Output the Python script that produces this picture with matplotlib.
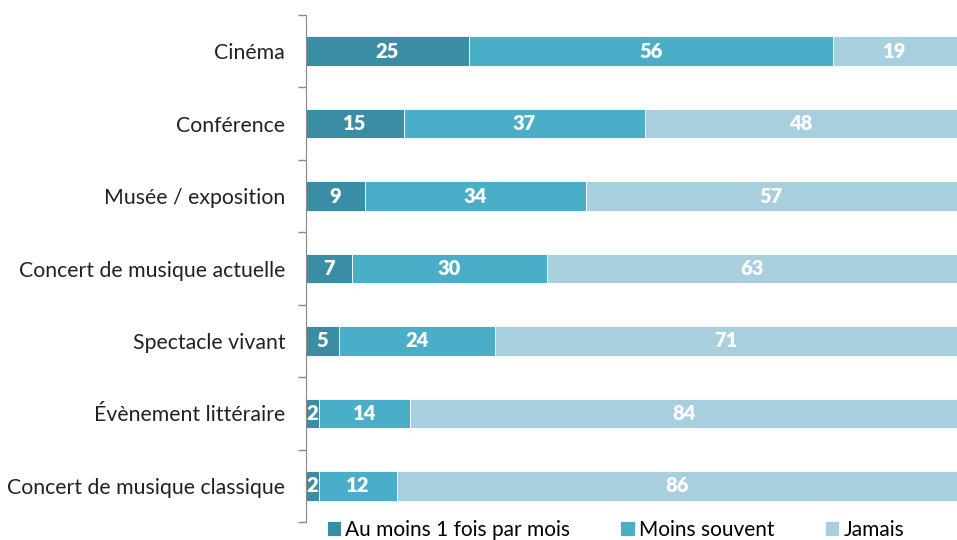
import matplotlib.pyplot as plt
import numpy as np

plt.rcParams['font.family'] = ['Lato', 'DejaVu Sans']

# Data (percentages)
categories = ['Cinéma', 'Conférence', 'Musée / exposition', 'Concert de musique actuelle',
              'Spectacle vivant', 'Évènement littéraire', 'Concert de musique classique']
monthly = [25, 15, 9, 7, 5, 2, 2]
less_often = [56, 37, 34, 30, 24, 14, 12]
never = [19, 48, 57, 63, 71, 84, 86]
series_names = ['Au moins 1 fois par mois', 'Moins souvent', 'Jamais']
colors = ['#3b8ca5', '#4baec8', '#a8cfde']

fig = plt.figure(figsize=(9.57, 5.40), dpi=100)
ax = fig.add_axes([306 / 957, 1 - 522 / 540, 1 - 306 / 957, (522 - 15) / 540])

y = np.arange(len(categories))
left = np.zeros(len(categories))
for vals, name, col in zip([monthly, less_often, never], series_names, colors):
    vals = np.array(vals)
    bars = ax.barh(y, vals, left=left, height=0.41, color=col, label=name,
                   edgecolor='white', linewidth=0.6)
    for b, v in zip(bars, vals):
        ax.text(b.get_x() + b.get_width() / 2, b.get_y() + b.get_height() / 2, str(v),
                ha='center', va='center', color='white', fontsize=14.5, fontweight='heavy')
    left += vals

ax.set_xlim(0, 100)
ax.set_ylim(len(categories) - 0.5, -0.5)
ax.set_xticks([])
ax.set_yticks(y)
ax.set_yticklabels(categories, fontsize=15.3, color='#222222')
ax.tick_params(axis='y', which='major', length=0, pad=15)
ax.set_yticks(np.arange(-0.5, len(categories)), minor=True)
ax.tick_params(axis='y', which='minor', length=6, color='#888888', width=1)
for s in ['top', 'right', 'bottom']:
    ax.spines[s].set_visible(False)
ax.spines['left'].set_color('#888888')

fig.legend(loc='center', bbox_to_anchor=(0.643, 0.0185), ncol=3, frameon=False,
           fontsize=15, handlelength=0.7, handleheight=0.7, handletextpad=0.2,
           columnspacing=2.4, borderaxespad=0)

fig.savefig('out.png', dpi=100)
